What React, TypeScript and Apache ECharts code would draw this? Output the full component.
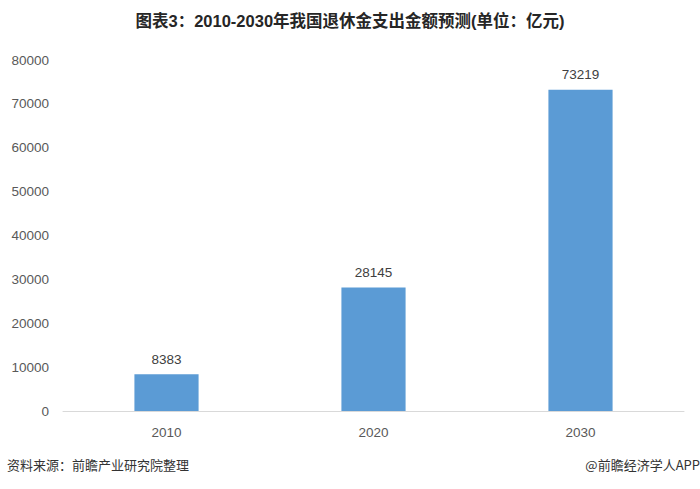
import React, { useEffect, useRef } from "react";
import * as echarts from "echarts";

const categories = ["2010", "2020", "2030"];
const values = [8383, 28145, 73219];
const titleText = "图表3：2010-2030年我国退休金支出金额预测(单位：亿元)";
const sourceText = "资料来源：前瞻产业研究院整理";
const brandText = "@前瞻经济学人APP";

export default function App() {
  const ref = useRef<HTMLDivElement>(null);
  useEffect(() => {
    if (!ref.current) return;
    const chart = echarts.init(ref.current, undefined, { renderer: "svg" });
    chart.setOption({
      animation: false,
      backgroundColor: "#ffffff",
      textStyle: { fontFamily: "'Noto Sans CJK SC', 'Liberation Sans', sans-serif" },
      title: {
        text: titleText,
        left: "center",
        top: 8,
        textStyle: { fontSize: 16.5, fontWeight: "bold", color: "#262626", fontFamily: "'Liberation Sans', 'Noto Sans CJK SC', sans-serif" },
      },
      graphic: [
        { type: "text", left: 7, top: 458, style: { text: sourceText, fontSize: 13, fill: "#333333", fontFamily: "'Noto Sans CJK SC', sans-serif" } },
        { type: "text", right: 0, top: 458, style: { text: brandText, fontSize: 13, fill: "#333333", fontFamily: "'Noto Sans CJK SC', sans-serif" } },
      ],
      grid: { left: 63, right: 16, top: 60, bottom: 78, containLabel: false },
      xAxis: {
        type: "category",
        data: categories,
        axisLine: { lineStyle: { color: "#d9d9d9", width: 1 } },
        axisTick: { show: false },
        axisLabel: { color: "#595959", fontSize: 13.5, margin: 14, fontFamily: "'Liberation Sans', Arial, sans-serif" },
      },
      yAxis: {
        type: "value",
        min: 0,
        max: 80000,
        interval: 10000,
        axisLine: { show: false },
        axisTick: { show: false },
        splitLine: { show: false },
        axisLabel: { color: "#595959", fontSize: 13.5, margin: 14, formatter: (v: number) => String(v), fontFamily: "'Liberation Sans', Arial, sans-serif" },
      },
      series: [
        {
          type: "bar",
          data: values,
          barWidth: "31%",
          itemStyle: { color: "#5B9BD5" },
          label: { show: true, position: "top", distance: 8, color: "#404040", fontSize: 13.5, fontFamily: "'Liberation Sans', Arial, sans-serif" },
        },
      ],
    });
    return () => chart.dispose();
  }, []);
  return <div ref={ref} style={{ width: 700, height: 489, position: "absolute", left: 0, top: 0 }} />;
}
